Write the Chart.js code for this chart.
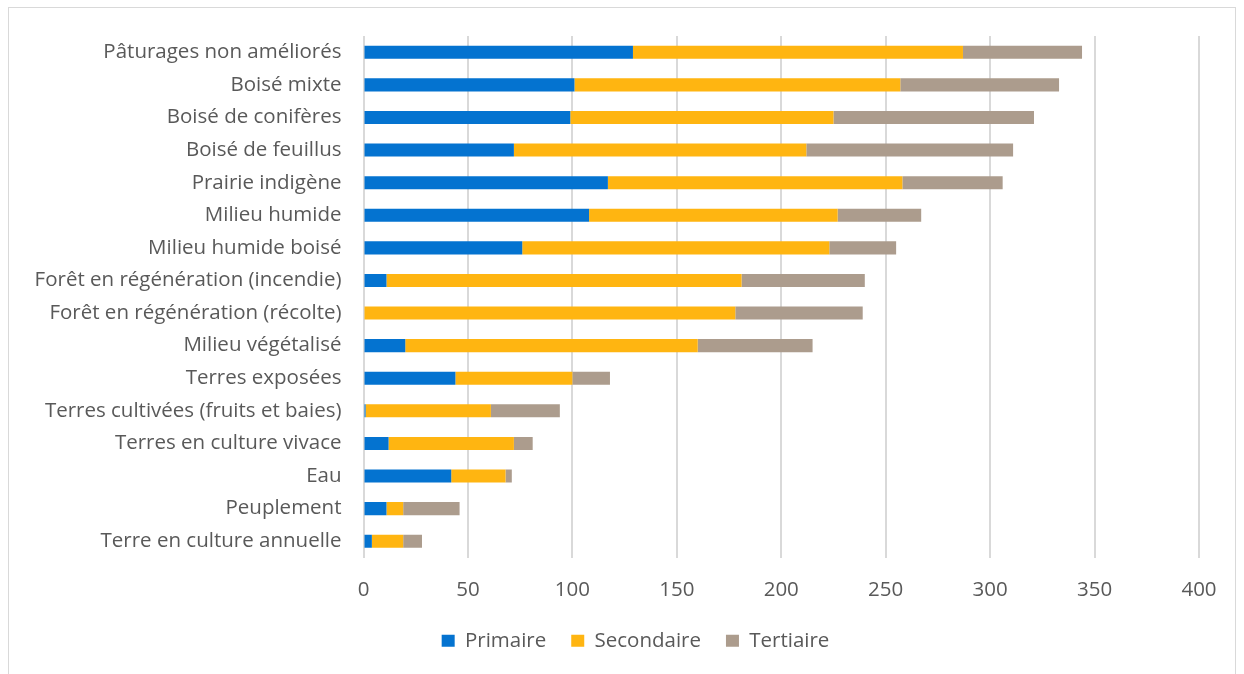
<!DOCTYPE html>
<html lang="fr">
<head>
<meta charset="utf-8">
<title>Milieux</title>
<script src="https://cdn.jsdelivr.net/npm/chart.js@4/dist/chart.umd.min.js"></script>
<style>
    html, body { margin: 0; padding: 0; background: #ffffff; }
    #wrap { position: relative; width: 1244px; height: 674px; overflow: hidden; }
    #frame { position: absolute; left: 8px; top: 7px; width: 1228px; height: 700px; border: 1px solid #d9d9d9; box-sizing: border-box; }
    #chart { position: absolute; left: 0; top: 0; }
</style>
</head>
<body>
<div id="wrap">
    <div id="frame"></div>
    <canvas id="chart" width="1244" height="674"></canvas>
</div>
<script>
// categories, top to bottom
const categories = [
    'Pâturages non améliorés',
    'Boisé mixte',
    'Boisé de conifères',
    'Boisé de feuillus',
    'Prairie indigène',
    'Milieu humide',
    'Milieu humide boisé',
    'Forêt en régénération (incendie)',
    'Forêt en régénération (récolte)',
    'Milieu végétalisé',
    'Terres exposées',
    'Terres cultivées (fruits et baies)',
    'Terres en culture vivace',
    'Eau',
    'Peuplement',
    'Terre en culture annuelle'
];

const primaire   = [129, 101,  99,  72, 117, 108,  76,  11,   0,  20,  44,  1, 12, 42, 11,  4];
const secondaire = [158, 156, 126, 140, 141, 119, 147, 170, 178, 140,  56, 60, 60, 26,  8, 15];
const tertiaire  = [ 57,  76,  96,  99,  48,  40,  32,  59,  61,  55,  18, 33,  9,  3, 27,  9];

const xTicks = [0, 50, 100, 150, 200, 250, 300, 350, 400];

const FONT = "'Open Sans', sans-serif";
const SIZE = 20.5;
const TEXT = '#595959';

function bar(label, data, color) {
    return {
        label: label,
        data: data,
        backgroundColor: color,
        borderWidth: 0,
        barPercentage: 0.4,
        categoryPercentage: 1.0
    };
}

// the original legend sits a bit right of the canvas centre
const shiftLegend = {
    id: 'shiftLegend',
    beforeDraw(chart) {
        if (chart.legend) {
            chart.legend.left += 31;
            chart.legend.right += 31;
        }
    }
};

new Chart(document.getElementById('chart'), {
    type: 'bar',
    data: {
        labels: categories,
        datasets: [
            bar('Primaire', primaire, '#0473d0'),
            bar('Secondaire', secondaire, '#ffb511'),
            bar('Tertiaire', tertiaire, '#ac9c8d')
        ]
    },
    plugins: [shiftLegend],
    options: {
        indexAxis: 'y',
        responsive: false,
        animation: false,
        layout: {
            padding: { top: 36, left: 10, right: 45, bottom: 13 }
        },
        plugins: {
            legend: {
                position: 'bottom',
                labels: {
                    color: TEXT,
                    font: { family: FONT, size: SIZE },
                    boxWidth: 13,
                    boxHeight: 12,
                    padding: 25
                }
            },
            tooltip: { enabled: false }
        },
        scales: {
            x: {
                stacked: true,
                min: 0,
                max: 400,
                afterBuildTicks: function (axis) {
                    axis.ticks = xTicks.map(v => ({ value: v }));
                },
                grid: {
                    color: '#d9d9d9',
                    lineWidth: 2,
                    drawTicks: false
                },
                border: { display: false },
                ticks: {
                    color: TEXT,
                    font: { family: FONT, size: SIZE },
                    padding: 20
                },
                afterFit: function (axis) {
                    axis.height = 48;
                }
            },
            y: {
                stacked: true,
                grid: { display: false, drawTicks: false },
                border: { display: false },
                ticks: {
                    color: TEXT,
                    font: { family: FONT, size: SIZE },
                    padding: 22,
                    autoSkip: false
                },
                afterFit: function (axis) {
                    axis.width = 353.5;
                }
            }
        }
    }
});
</script>
</body>
</html>
